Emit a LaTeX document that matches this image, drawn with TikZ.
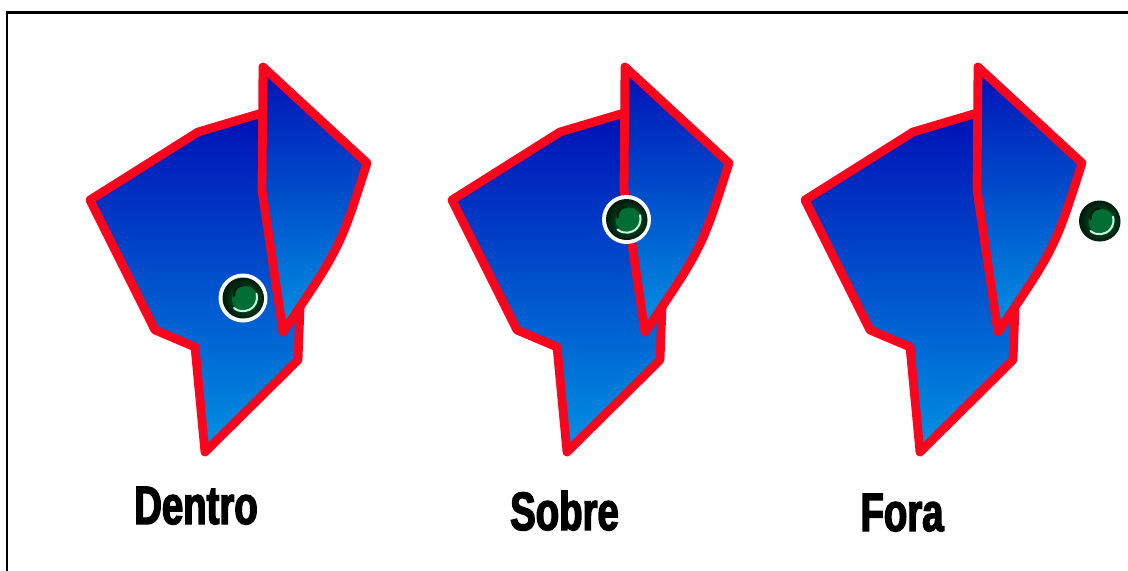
\documentclass[tikz,border=0pt]{standalone}
\usepackage{fontspec}
\newfontfamily\labelfont[FakeStretch=0.71,FakeBold=2.6]{Liberation Sans Bold}
\definecolor{edgered}{RGB}{250,5,30}
\definecolor{bluetop}{RGB}{0,16,182}
\definecolor{bluebot}{RGB}{0,146,226}
\definecolor{ballmid}{RGB}{0,110,52}
\definecolor{balldark}{RGB}{0,30,14}
\definecolor{ballhi}{RGB}{205,242,220}
\tikzset{
  piece/.style={draw=edgered, line width=6.6pt, line join=round, top color=bluetop, bottom color=bluebot},
  framestyle/.style={draw=black, line width=1.9pt},
  caption/.style={font=\labelfont\fontsize{40.5}{42}\selectfont, text=black, anchor=base, inner sep=0pt},
  region/.pic={
    \draw[piece] (90,200) -- (198,132) -- (262,113) -- (276,200) -- (300,308) -- (298,360)
      -- (205,452) -- (195,347) -- (155,330) -- cycle;
    \draw[piece] (263,67) -- (367,163) .. controls (340,248) .. (283,332) -- (262,190) -- cycle;
  },
  ball/.pic={
    \fill[balldark] (0,0) circle[radius=20.5];
    \shade[inner color=ballmid, outer color=balldark] (1.5,0.5) circle[radius=19.5];
    \fill[ballmid] (2,1) circle[radius=13];
    \draw[balldark, line width=1.8pt, line cap=round] (-9,-2) arc[start angle=-190, end angle=-90, radius=9];
    \draw[ballhi, line width=1.5pt, line cap=round] (-9,10) arc[start angle=130, end angle=-15, radius=14];
  }
}
\begin{document}
\begin{tikzpicture}[x=0.75pt,y=-0.75pt]
\useasboundingbox (0,0) rectangle (1128,571);
\fill[white] (0,0) rectangle (1128,571);
\draw[framestyle] (7,575) -- (7,12.5) -- (1132,12.5);
% regions
\pic at (0,0) {region};
\pic at (362,0) {region};
\pic at (715,0) {region};
% points
\fill[white] (243,298) circle[radius=24.5];
\pic at (243,298) {ball};
\fill[white] (626.5,219.5) circle[radius=24.5];
\pic at (626.5,219.5) {ball};
\pic at (1099.5,221) {ball};
% labels
\node[caption] (dentro) at (196,524) {Dentro};
\node[caption] (sobre) at (564.5,530) {Sobre};
\node[caption] (fora) at (902,531) {Fora};
\end{tikzpicture}
\end{document}
